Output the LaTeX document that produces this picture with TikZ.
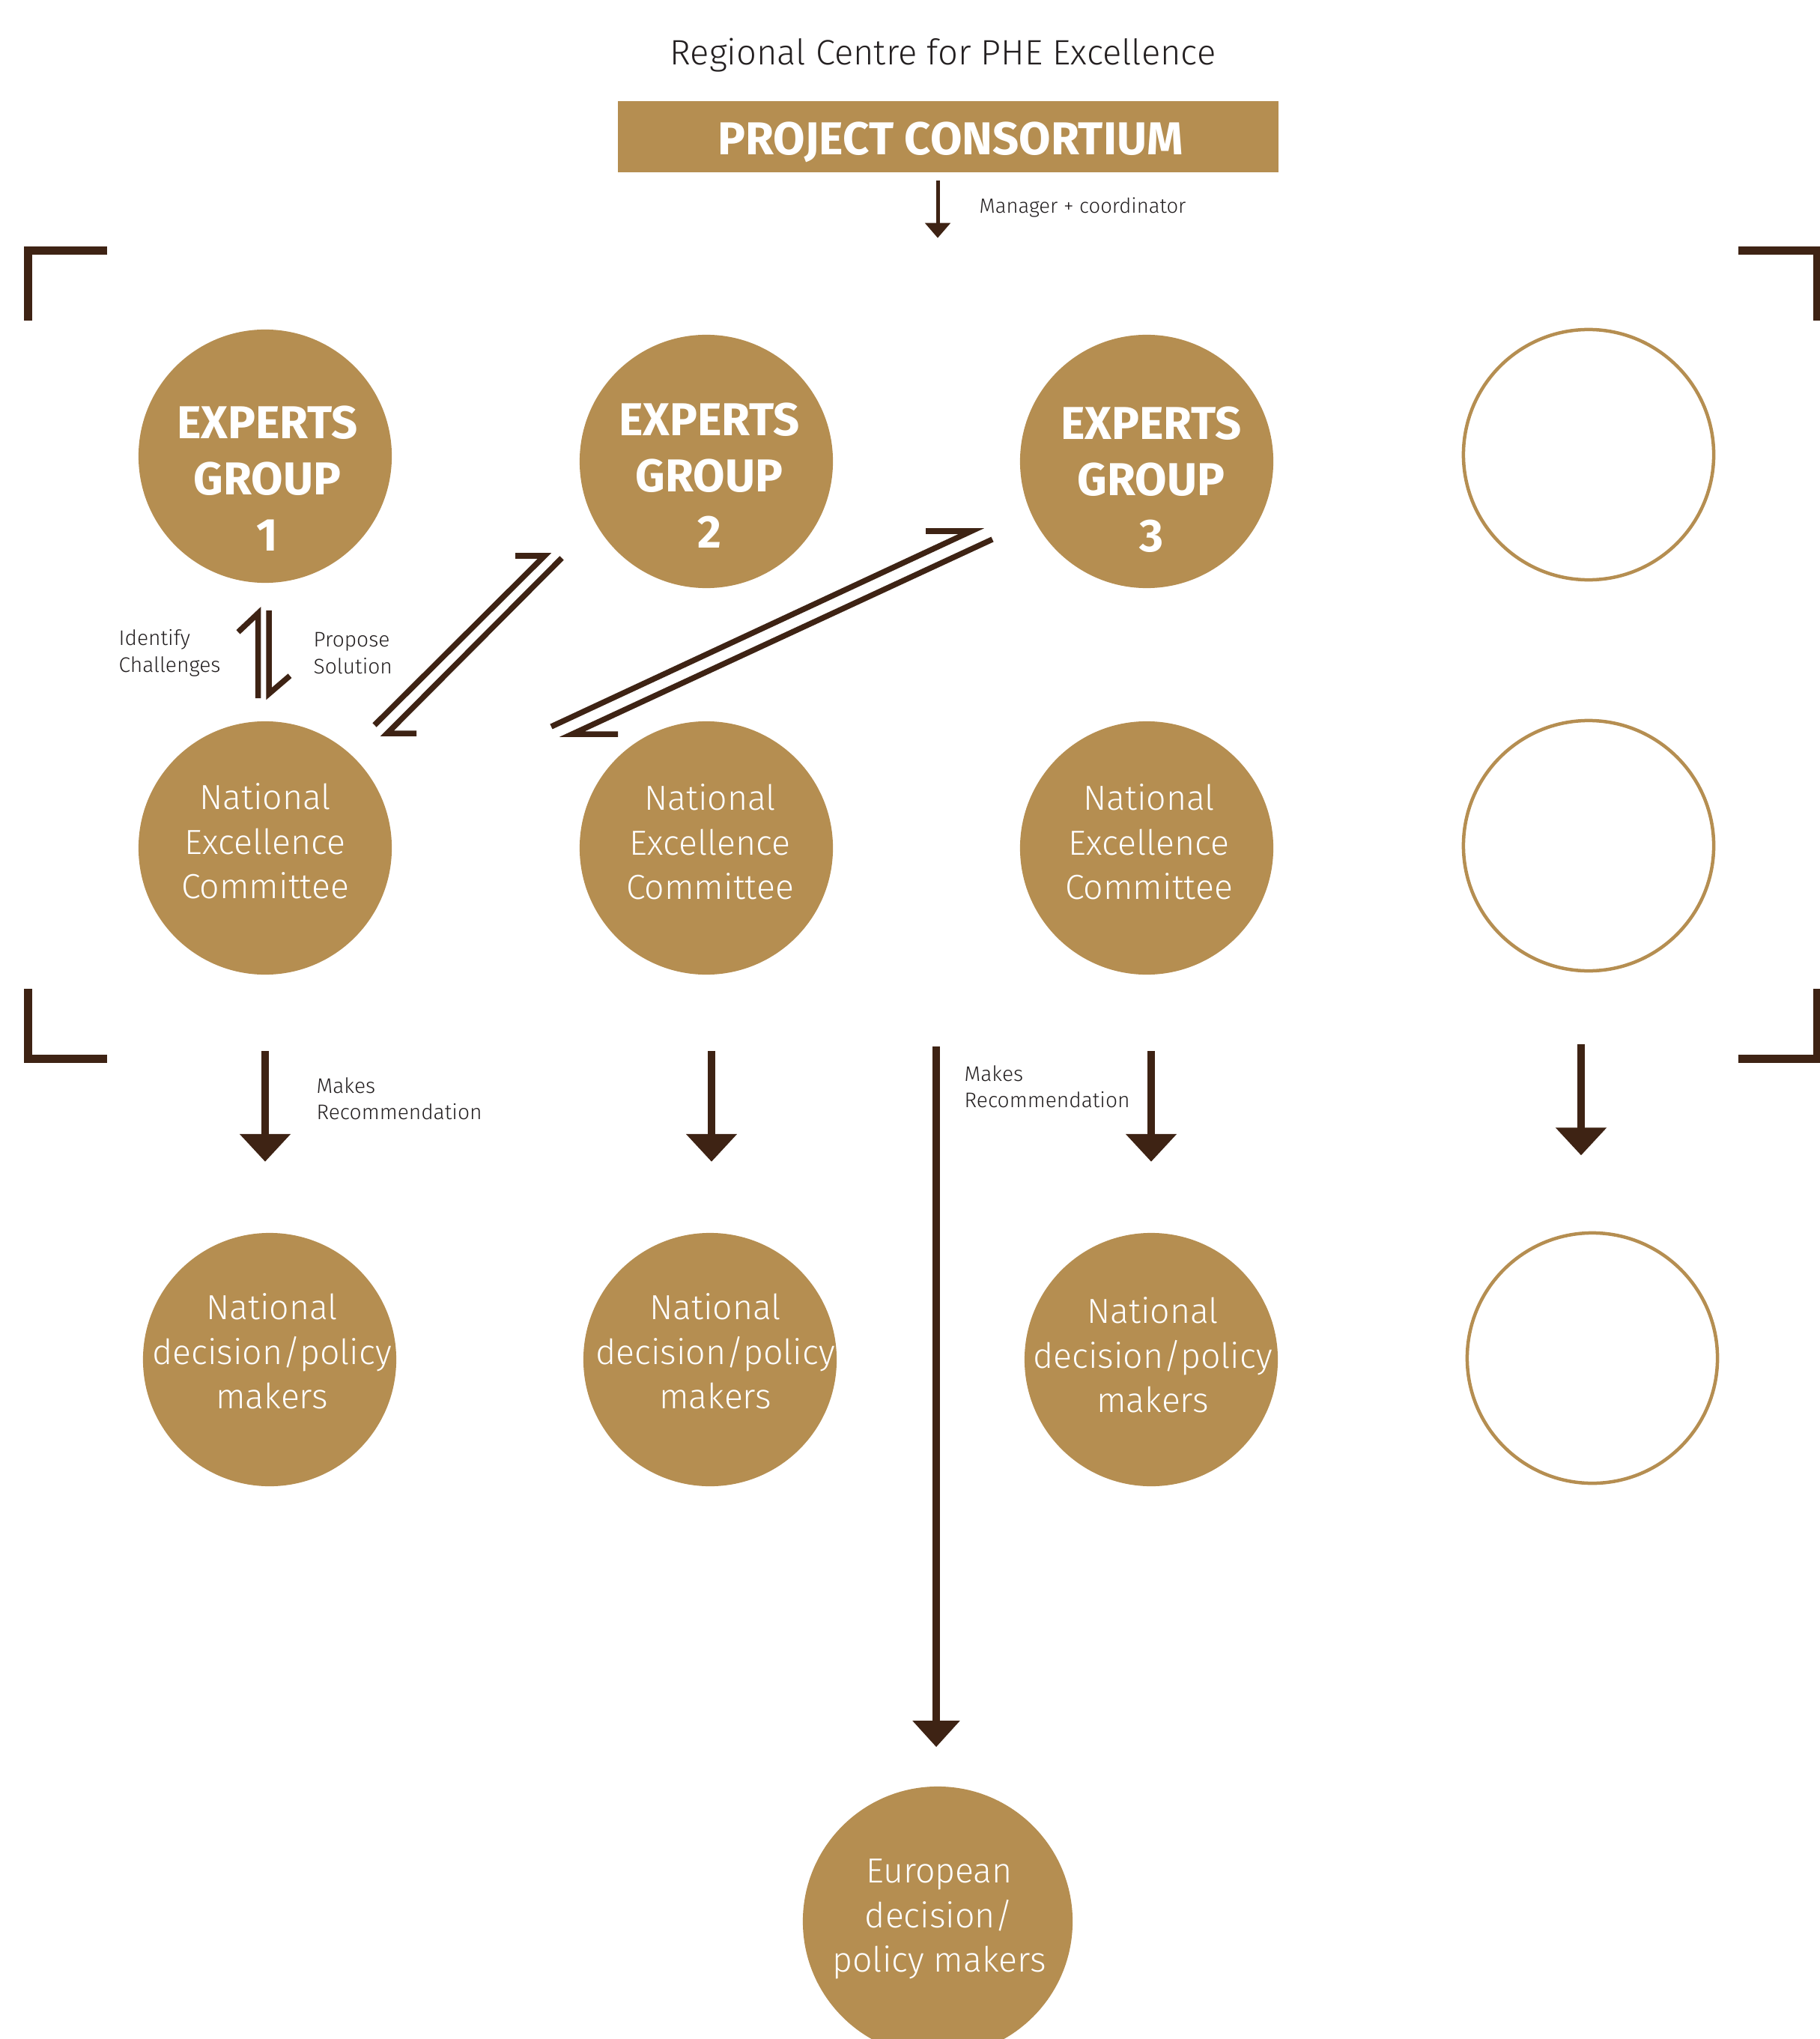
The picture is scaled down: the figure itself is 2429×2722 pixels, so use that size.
\documentclass[tikz,border=0pt]{standalone}
\usepackage{fontspec}
\setmainfont{Fira Sans}
\newfontfamily\lightfont{Fira Sans Light}
\usetikzlibrary{positioning, arrows.meta, calc}
\definecolor{gold}{RGB}{181,142,81}
\definecolor{umber}{RGB}{62,35,20}
\definecolor{ink}{RGB}{35,31,32}

\begin{document}
\begin{tikzpicture}[x=0.01cm, y=-0.01cm,
        disc/.style={circle, fill=gold, minimum size=3.38cm, inner sep=0pt},
        ring/.style={circle, draw=gold, line width=0.045cm, minimum size=3.34cm, inner sep=0pt},
        headtext/.style={text=white, align=center, inner sep=0pt, font=\bfseries\fontsize{17.5}{21.3}\selectfont},
        bodytext/.style={text=white, align=center, inner sep=0pt, font=\lightfont\fontsize{13.2}{16.9}\selectfont},
        note/.style={text=ink, align=left, inner sep=0pt, anchor=north west, font=\lightfont\fontsize{8}{10}\selectfont},
        rec/.style={draw=umber, line width=0.095cm, -{Triangle[width=0.66cm, length=0.37cm]}},
        small/.style={draw=umber, line width=0.05cm, -{Triangle[width=0.33cm, length=0.2cm]}},
        harp/.style={draw=umber, line width=0.075cm, line join=miter},
        frame/.style={draw=umber, line width=0.11cm, line join=miter}]

        \useasboundingbox (0,0) rectangle (2429,2722);

        % Topo
        \node (title) [text=ink, anchor=base, font=\lightfont\fontsize{13.4}{16}\selectfont] at (1259,87) {Regional Centre for PHE Excellence};
        \node (pc) [fill=gold, minimum width=8.82cm, minimum height=0.95cm, inner sep=0pt] at (1266,182.5) {};
        \node (pct) [text=white, anchor=base, font=\bfseries\fontsize{17.5}{20}\selectfont] at (1269,207) {PROJECT CONSORTIUM};
        \node (man) [note, anchor=base west, font=\lightfont\fontsize{7.8}{10}\selectfont] at (1307,285) {Manager + coordinator};

        % Cantos
        \draw[frame] (143,334.5) -- (37.5,334.5) -- (37.5,428);
        \draw[frame] (2321,334.5) -- (2426.5,334.5) -- (2426.5,428);
        \draw[frame] (37.5,1320) -- (37.5,1413) -- (143,1413);
        \draw[frame] (2426.5,1320) -- (2426.5,1413) -- (2321,1413);

        % Grupos de peritos
        \node (eg1) [disc] at (354,609) {};
        \node (eg2) [disc] at (943,616) {};
        \node (eg3) [disc] at (1531,616) {};
        \node (e4) [ring] at (2121,607) {};
        \node (eg1t) [headtext] at (357,639) {EXPERTS\\GROUP\\1};
        \node (eg2t) [headtext] at (947,635) {EXPERTS\\GROUP\\2};
        \node (eg3t) [headtext] at (1537,640) {EXPERTS\\GROUP\\3};

        % Comites nacionais
        \node (nec1) [disc] at (354,1132) {};
        \node (nec2) [disc] at (943,1132) {};
        \node (nec3) [disc] at (1531,1132) {};
        \node (e5) [ring] at (2121,1129) {};
        \node (nec1t) [bodytext] at (354,1123) {National\\Excellence\\Committee};
        \node (nec2t) [bodytext] at (948,1124) {National\\Excellence\\Committee};
        \node (nec3t) [bodytext] at (1534,1124) {National\\Excellence\\Committee};

        % Decisores
        \node (dm1) [disc] at (360,1815) {};
        \node (dm2) [disc] at (948,1815) {};
        \node (dm3) [disc] at (1537,1815) {};
        \node (e6) [ring] at (2126,1813) {};
        \node (dm1t) [bodytext] at (363,1804) {National\\decision/policy\\makers};
        \node (dm2t) [bodytext] at (955,1804) {National\\decision/policy\\makers};
        \node (dm3t) [bodytext] at (1539,1809) {National\\decision/policy\\makers};
        \node (eu) [disc, minimum size=3.6cm] at (1252,2565) {};
        \node (eut) [bodytext] at (1254,2562) {European\\decision/\\policy makers};

        % Rotulos
        \node (idc) [note] at (158,840) {Identify\\Challenges};
        \node (pps) [note] at (418,844) {Propose\\Solution};
        \node (mr1) [note] at (422,1438) {Makes\\Recommendation};
        \node (mr2) [note] at (1287,1422) {Makes\\Recommendation};

        % Conexoes
        \draw[small] ([shift={(-14,10)}]pc.south) -- ++(0,77);
        \draw[harp] ([shift={(-9.5,-30)}]nec1.north) -- ([shift={(-9.5,40)}]eg1.south) -- ++(-26.5,25);
        \draw[harp] ([shift={(5,36)}]eg1.south) -- ([shift={(5,-36)}]nec1.north) -- ++(28,-24);

        \coordinate (a1) at (500,968);
        \coordinate (a2) at (727,742);
        \coordinate (a3) at (750,745);
        \coordinate (a4) at (517,979);
        \draw[harp] (a1) -- (a2) -- ++(-39,0);
        \draw[harp] (a3) -- (a4) -- ++(39,0);

        \coordinate (b1) at (736,970);
        \coordinate (b2) at (1297,709);
        \coordinate (b3) at (1325,720);
        \coordinate (b4) at (764,980);
        \draw[harp] (b1) -- (b2) -- ++(-61,0);
        \draw[harp] (b3) -- (b4) -- ++(61,0);

        % Recomendacoes
        \draw[rec] ([shift={(0,101)}]nec1.south) -- ++(0,148);
        \draw[rec] ([shift={(7,101)}]nec2.south) -- ++(0,148);
        \draw[rec] ([shift={(6,101)}]nec3.south) -- ++(0,148);
        \draw[rec] ([shift={(-10,96)}]e5.south) -- ++(0,148);
        \coordinate (eusplit) at (1250,1397);
        \draw[rec, -{Triangle[width=0.61cm, length=0.35cm]}] (eusplit) -- ([shift={(-2,-52)}]eu.north);

    \end{tikzpicture}
\end{document}
